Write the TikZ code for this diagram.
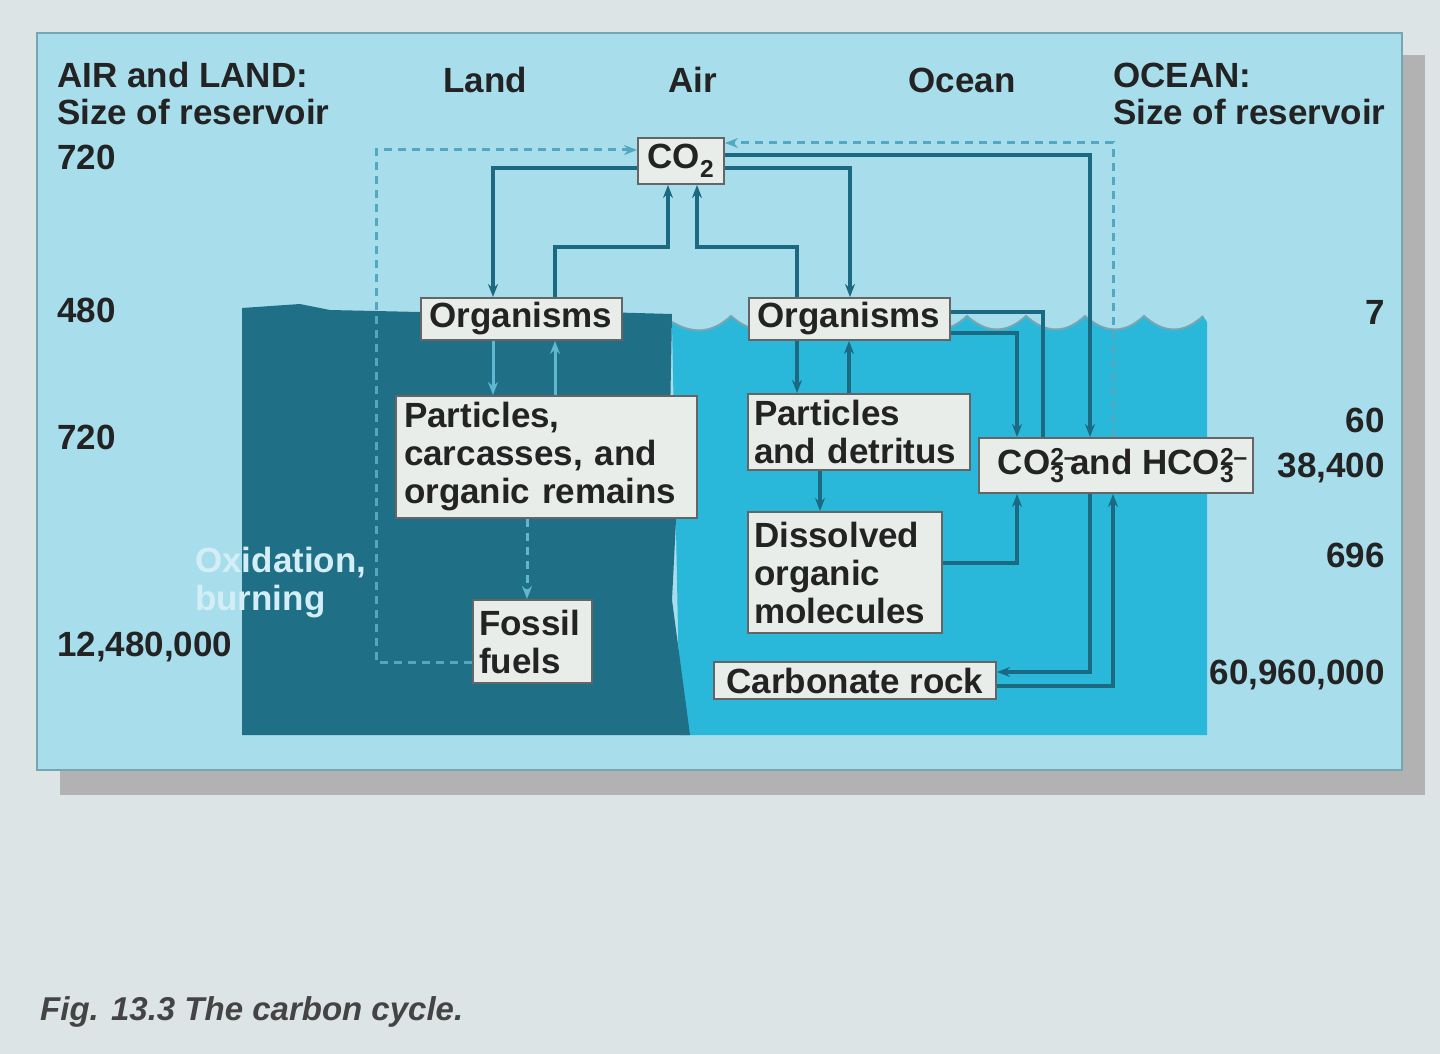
\documentclass[tikz,border=0pt]{standalone}
\usepackage{fontspec}
\setmainfont{Liberation Sans}
\usetikzlibrary{arrows.meta}
\definecolor{bgc}{HTML}{DCE4E6}
\definecolor{panel}{HTML}{A8DDEC}
\definecolor{land}{HTML}{1F6F87}
\definecolor{ocean}{HTML}{2AB8DA}
\definecolor{flow}{HTML}{1B6A82}
\definecolor{lflow}{HTML}{5FB8D0}
\definecolor{boxc}{HTML}{E9EDEA}
\definecolor{txt}{HTML}{232323}
\newcommand{\ionsub}[1]{\rlap{\textsuperscript{#1}}\textsubscript{3}}
\begin{document}
\begin{tikzpicture}[x=1pt,y=-1pt,
  lbl/.style={font=\fontsize{35}{40}\selectfont\bfseries,text=txt,inner sep=0pt},
  bx/.style={draw=txt!70,fill=boxc,line width=2pt,inner sep=0pt,font=\fontsize{35}{38}\selectfont\bfseries,text=txt,align=left},
  fl/.style={draw=flow,line width=3.5pt,-{Stealth[length=13pt,width=10pt]}},
  lf/.style={draw=lflow,line width=3pt,-{Stealth[length=13pt,width=10pt]}},
  dfl/.style={draw=lflow!80!flow,line width=3pt,dash pattern=on 8pt off 6pt,-{Stealth[length=13pt,width=10pt]}}]
\fill[bgc] (0,0) rectangle (1440,1054);
\useasboundingbox (0,0) rectangle (1440,1054);
\fill[gray!60] (60,55) rectangle (1425,795);
\fill[panel] (37,33) rectangle (1402,770);
\draw[flow!60,line width=2pt] (37,33) rectangle (1402,770);
% ocean
\fill[ocean] (672,322) \foreach \i in {0,...,8}{ .. controls ({672+\i*59+20},{334}) and ({672+\i*59+40},{334}) .. ({672+\i*59+59},{316}) } -- (1207,322) -- (1207,735) -- (680,735) -- cycle;
\draw[flow!60,line width=2pt] (672,322) \foreach \i in {0,...,8}{ .. controls ({672+\i*59+20},{334}) and ({672+\i*59+40},{334}) .. ({672+\i*59+59},{316}) };
% land
\fill[land] (242,308) -- (300,304) -- (330,310) -- (420,312) -- (600,312) -- (672,314) -- (670,420) -- (676,520) -- (672,600) -- (690,735) -- (242,735) -- cycle;
% boxes
\node[bx,minimum width=86pt,minimum height=46pt] (co2) at (681,161) {CO\textsubscript{2}};
\node[bx,minimum width=201pt,minimum height=42pt] (orgL) at (521,319) {Organisms};
\node[bx,minimum width=201pt,minimum height=42pt] (orgO) at (849,319) {Organisms};
\node[bx,minimum width=301pt,minimum height=122pt,text width=285pt] (partL) at (546.5,457) {Particles,\\carcasses, and\\organic remains};
\node[bx,minimum width=222pt,minimum height=76pt,text width=210pt] (partO) at (859,432) {Particles\\and detritus};
\node[bx,minimum width=274pt,minimum height=55pt] (co3) at (1116,465.5) {CO\ionsub{2–}\,and HCO\ionsub{2–}};
\node[bx,minimum width=194pt,minimum height=121pt,text width=182pt] (diss) at (845,572.5) {Dissolved\\organic\\molecules};
\node[bx,minimum width=119pt,minimum height=83pt,text width=107pt] (foss) at (532.5,641.5) {Fossil\\fuels};
\node[bx,minimum width=282pt,minimum height=37pt] (rock) at (855,680.5) {Carbonate rock};
% air flows
\draw[fl] (co2.west |- 0,168) -| (orgL.north -| 493,0);
\draw[fl] (orgL.north -| 555,0) |- (668,247) -- (co2.south -| 668,0);
\draw[fl] (orgO.north -| 797,0) |- (697,247) -- (co2.south -| 697,0);
\draw[fl] (co2.east |- 0,168) -| (orgO.north -| 850,0);
\draw[fl] (co2.east |- 0,155) -| (co3.north -| 1090,0);
\draw[dfl] (co3.north -| 1113,0) |- (co2.east |- 0,143);
\draw[dfl] (foss.west |- 0,662) -| (376,150) -- (co2.west |- 0,150);
% land internal
\draw[lf] (orgL.south -| 493,0) -- (partL.north -| 493,0);
\draw[lf] (partL.north -| 555,0) -- (orgL.south -| 555,0);
\draw[dfl,draw=lflow] (partL.south -| 527,0) -- (foss.north -| 527,0);
% ocean internal
\draw[fl] (orgO.south -| 797,0) -- (partO.north -| 797,0);
\draw[fl] (partO.north -| 849,0) -- (orgO.south -| 849,0);
\draw[fl] (partO.south -| 820,0) -- (diss.north -| 820,0);
\draw[fl] (orgO.east |- 0,333) -| (co3.north -| 1017,0);
\draw[flow,line width=3.5pt] (orgO.east |- 0,312) -| (co3.north -| 1043,0);
\draw[fl] (diss.east |- 0,563) -| (co3.south -| 1017,0);
\draw[fl] (co3.south -| 1090,0) |- (rock.east |- 0,672);
\draw[fl] (rock.east |- 0,686) -| (co3.south -| 1113,0);
% labels
\node[lbl,anchor=west] (l1) at (57,75) {AIR and LAND:};
\node[lbl,anchor=west] (l2) at (57,112) {Size of reservoir};
\node[lbl,anchor=west] (n1) at (57,157) {720};
\node[lbl,anchor=west] (n2) at (57,310) {480};
\node[lbl,anchor=west] (n3) at (57,437) {720};
\node[lbl,anchor=west] (n4) at (57,647) {12,480,000};
\node[lbl] (h1) at (485,80) {Land};
\node[lbl] (h2) at (693,80) {Air};
\node[lbl] (h3) at (962,80) {Ocean};
\node[lbl,anchor=west] (r1) at (1113,75) {OCEAN:};
\node[lbl,anchor=west] (r2) at (1113,112) {Size of reservoir};
\node[lbl,anchor=east] (m1) at (1385,312) {7};
\node[lbl,anchor=east] (m2) at (1385,420) {60};
\node[lbl,anchor=east] (m3) at (1385,468) {38,400};
\node[lbl,anchor=east] (m4) at (1385,555) {696};
\node[lbl,anchor=east] (m5) at (1385,675) {60,960,000};
\node[lbl,anchor=west,text=panel!50!white] (ox1) at (195,563) {Oxidation,};
\node[lbl,anchor=west,text=panel!50!white] (ox2) at (195,602) {burning};
\node[lbl,anchor=west,font=\fontsize{33}{36}\selectfont\bfseries\itshape,text=txt!85] (cap) at (40,1012) {Fig. 13.3 The carbon cycle.};
\end{tikzpicture}
\end{document}
